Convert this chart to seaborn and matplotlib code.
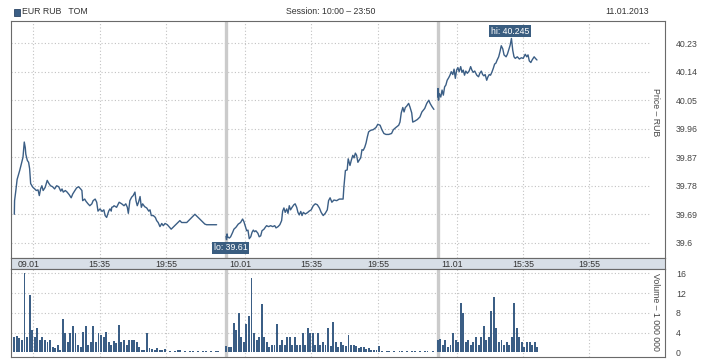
import pandas as pd
import seaborn as sns
import matplotlib.pyplot as plt
from matplotlib.patches import Rectangle

# session 10:00 - 23:50, times below are minutes after 10:00
DAY_LEN = 830
LINE_COLOR = '#3b5e85'

day1_time = [0, 1, 6, 11, 21, 27, 34, 39, 43, 45, 51, 56, 60, 64, 69, 73, 80, 86, 93, 98,
             103, 108, 113, 121, 129, 135, 142, 150, 158, 166, 174, 182, 187, 192, 200, 207,
             215, 223, 229, 236, 244, 252, 260, 265, 268, 276, 281, 289, 296, 304, 309, 317,
             323, 328, 336, 344, 351, 356, 362, 370, 375, 380, 382, 388, 391, 401, 411, 421,
             430, 437, 443, 447, 453, 460, 466, 473, 477, 482, 487, 493, 498, 503, 511, 519,
             527, 532, 537, 545, 553, 558, 564, 571, 578, 584, 591, 600, 615, 649, 656, 676,
             708, 727, 747, 754, 793]
day1_price = [39.69, 39.733, 39.765, 39.80, 39.828, 39.847, 39.87, 39.918, 39.90, 39.88,
              39.86, 39.854, 39.834, 39.787, 39.78, 39.775, 39.77, 39.765, 39.767, 39.749,
              39.77, 39.78, 39.765, 39.775, 39.797, 39.788, 39.78, 39.777, 39.77, 39.78,
              39.777, 39.763, 39.77, 39.76, 39.765, 39.76, 39.752, 39.742, 39.754, 39.763,
              39.773, 39.777, 39.77, 39.765, 39.733, 39.738, 39.731, 39.723, 39.717, 39.723,
              39.733, 39.738, 39.728, 39.70, 39.707, 39.699, 39.704, 39.686, 39.68, 39.70,
              39.707, 39.70, 39.712, 39.714, 39.717, 39.712, 39.728, 39.723, 39.717, 39.723,
              39.712, 39.693, 39.733, 39.744, 39.749, 39.76, 39.733, 39.717, 39.728, 39.746,
              39.712, 39.723, 39.714, 39.71, 39.70, 39.704, 39.686, 39.686, 39.68, 39.67,
              39.664, 39.651, 39.661, 39.654, 39.661, 39.657, 39.643, 39.67, 39.664, 39.664,
              39.69, 39.675, 39.659, 39.657, 39.657]

day2_time = [0, 2, 4, 6, 13, 18, 26, 31, 39, 48, 57, 65, 70, 75, 81, 86, 91, 97, 102, 107,
             112, 117, 125, 130, 136, 141, 149, 154, 159, 167, 175, 183, 191, 196, 204, 211,
             218, 222, 227, 232, 238, 243, 248, 253, 259, 266, 271, 277, 282, 287, 293, 298,
             303, 311, 319, 326, 334, 342, 350, 358, 366, 373, 381, 389, 397, 402, 408, 415,
             423, 434, 444, 459, 462, 468, 475, 479, 486, 491, 497, 502, 507, 512, 517, 523,
             528, 533, 538, 544, 549, 554, 559, 567, 577, 588, 595, 604, 611, 619, 627, 638,
             649, 656, 666, 677, 682, 687, 693, 698, 703, 708, 716, 721, 728, 732, 740, 750,
             760, 768, 779, 787, 795, 800, 808, 815]
day2_price = [39.62, 39.61, 39.628, 39.619, 39.615, 39.619, 39.633, 39.643, 39.649, 39.659,
              39.664, 39.675, 39.667, 39.654, 39.638, 39.64, 39.613, 39.619, 39.633, 39.64,
              39.635, 39.638, 39.63, 39.619, 39.622, 39.638, 39.643, 39.649, 39.654, 39.651,
              39.654, 39.651, 39.654, 39.647, 39.651, 39.657, 39.67, 39.70, 39.71, 39.696,
              39.707, 39.693, 39.717, 39.704, 39.712, 39.72, 39.723, 39.712, 39.696, 39.688,
              39.699, 39.686, 39.696, 39.691, 39.695, 39.70, 39.704, 39.717, 39.723, 39.72,
              39.71, 39.696, 39.686, 39.693, 39.704, 39.733, 39.742, 39.728, 39.735, 39.733,
              39.738, 39.738, 39.775, 39.828, 39.83, 39.865, 39.844, 39.86, 39.876, 39.868,
              39.883, 39.876, 39.854, 39.862, 39.868, 39.894, 39.892, 39.902, 39.915, 39.934,
              39.95, 39.955, 39.957, 39.964, 39.974, 39.971, 39.957, 39.945, 39.942, 39.942,
              39.945, 39.957, 39.964, 39.971, 39.981, 40.01, 40.027, 40.013, 40.027, 40.031,
              40.04, 40.029, 40.01, 39.981, 39.984, 39.989, 39.997, 40.013, 40.024, 40.04,
              40.05, 40.04, 40.029, 40.021]

day3_time = [0, 1, 3, 6, 12, 17, 22, 27, 32, 37, 43, 48, 53, 59, 64, 69, 74, 79, 84, 90,
             95, 100, 105, 110, 116, 123, 129, 134, 139, 145, 153, 160, 165, 171, 176, 181,
             186, 192, 197, 202, 207, 213, 218, 223, 228, 233, 239, 244, 249, 255, 260, 268,
             273, 278, 284, 289, 294, 299, 304, 312, 320, 328, 335, 343, 349, 354, 359, 365,
             370, 378, 383, 389]
day3_price = [40.06, 40.087, 40.05, 40.071, 40.06, 40.082, 40.066, 40.092, 40.098, 40.113,
              40.121, 40.129, 40.14, 40.131, 40.148, 40.119, 40.145, 40.153, 40.14, 40.156,
              40.138, 40.145, 40.129, 40.142, 40.135, 40.142, 40.156, 40.145, 40.138, 40.142,
              40.129, 40.124, 40.135, 40.142, 40.131, 40.127, 40.131, 40.113, 40.124, 40.131,
              40.129, 40.14, 40.151, 40.164, 40.167, 40.177, 40.187, 40.203, 40.222, 40.212,
              40.193, 40.187, 40.195, 40.208, 40.224, 40.245, 40.208, 40.187, 40.182, 40.187,
              40.18, 40.184, 40.182, 40.195, 40.187, 40.193, 40.174, 40.169, 40.177, 40.187,
              40.182, 40.177]

# volume, millions, 10-minute bins from 10:00
vol_day1 = [3.2, 3.3, 2.8, 2.5, 16, 3, 11.7, 4.5, 3, 5,
            2.5, 3, 2.5, 2, 2.5, 1, 0.8, 1.5, 0.5, 6.8,
            4, 2, 4, 5.4, 4, 1.5, 1, 4.2, 5.3, 1.5,
            2, 5.3, 2, 4, 3.5, 3, 4.2, 2, 1.5, 2.2,
            1.8, 5.5, 2, 2.5, 1.5, 2.5, 2.5, 2.5, 2, 1,
            0.5, 0.5, 4, 0.8, 0.6, 0.5, 0.8, 0.5, 0.4, 0.6,
            0, 0.2, 0, 0.3, 0.4, 0.4, 0, 0.3, 0, 0.3,
            0.3, 0, 0.3, 0, 0.3, 0.3, 0, 0.3, 0, 0.2,
            0.3, 0, 0]
vol_day2 = [1.2, 1, 1, 6, 4.5, 8, 3, 2, 5.7, 7.3,
            15, 4, 2.5, 3, 9.7, 3, 2, 1, 1.5, 1.5,
            5.7, 1.5, 2.5, 1.5, 3, 3, 1.5, 3, 1.5, 1.5,
            4, 1.5, 5, 4, 4, 1.5, 4, 1.5, 2, 1.5,
            5, 1.2, 6.2, 2, 1, 2, 1.5, 1.2, 3.5, 1.5,
            1.5, 1.2, 0.8, 1, 1, 0.6, 0.8, 0.5, 0.5, 0.4,
            1.3, 0.3, 0, 0.3, 0.3, 0, 0.3, 0, 0.3, 0.3,
            0, 0.3, 0, 0.3, 0.3, 0, 0.3, 0, 0.3, 0.3,
            0, 0.3, 0]
vol_day3 = [2.5, 2.7, 1.5, 2.5, 1, 1.5, 4, 2.5, 2, 10,
            8, 2, 2.5, 1.5, 2, 3, 1.5, 3, 5.3, 2.5,
            3, 8.3, 11.2, 5, 2, 2.5, 1.5, 2, 1.5, 3,
            10, 5, 3, 2, 1, 2, 2, 1.5, 2, 1]

tick_minutes = [75, 335, 595]
tick_labels = ['09.01', '15:35', '19:55', '10.01', '15:35', '19:55', '11.01', '15:35', '19:55']
price_ticks = [39.6, 39.69, 39.78, 39.87, 39.96, 40.05, 40.14, 40.23]
volume_ticks = [0, 4, 8, 12, 16]

sns.set_style('white')
plt.rcParams['font.family'] = ['Liberation Sans', 'DejaVu Sans']
FS = 6.3
GRID = dict(color='#c2c2c2', lw=0.8, ls=(0, (1, 2)), zorder=0)

price_rows = []
for d, (times, prices) in enumerate([(day1_time, day1_price), (day2_time, day2_price),
                                     (day3_time, day3_price)]):
    for t, p in zip(times, prices):
        price_rows.append({'t': d * DAY_LEN + t, 'price': p, 'day': d})
price_df = pd.DataFrame(price_rows)

vol_rows = []
for d, vols in enumerate([vol_day1, vol_day2, vol_day3]):
    for i, v in enumerate(vols):
        vol_rows.append({'t': d * DAY_LEN + 10 * i, 'vol': v})
vol_df = pd.DataFrame(vol_rows)

ticks = [d * DAY_LEN + m for d in range(3) for m in tick_minutes]
separators = [DAY_LEN, 2 * DAY_LEN]
xlim = (-13, 2551)

fig = plt.figure(figsize=(7.18, 3.6), dpi=100)
ax_p = fig.add_axes([11 / 718, 102 / 360, 654 / 718, 237 / 360])
ax_s = fig.add_axes([11 / 718, 91 / 360, 654 / 718, 11 / 360])
ax_v = fig.add_axes([11 / 718, 3 / 360, 654 / 718, 88 / 360])

# price panel
for y in price_ticks:
    ax_p.axhline(y, xmax=0.977, **GRID)
for x in ticks:
    ax_p.axvline(x, **GRID)
for x in separators:
    ax_p.axvline(x, color='#cbcbcb', lw=2.4, zorder=1)
sns.lineplot(data=price_df, x='t', y='price', units='day', estimator=None,
             color=LINE_COLOR, lw=1.0, ax=ax_p, zorder=3)
ax_p.set_xlim(*xlim)
ax_p.set_ylim(39.552, 40.300)
ax_p.set_xticks([])
ax_p.yaxis.tick_right()
ax_p.set_yticks(price_ticks)
ax_p.set_yticklabels([f'{v:g}' for v in price_ticks])
ax_p.set_xlabel('')
ax_p.set_ylabel('')
ax_p.text(0.986, 0.614, 'Price – RUB', rotation=270, transform=ax_p.transAxes,
          ha='center', va='center', fontsize=FS, color='#444444')

hi = price_df.loc[price_df['price'].idxmax()]
lo = price_df.loc[price_df['price'].idxmin()]
box = dict(boxstyle='square,pad=0.18', fc='#3a5d80', ec='none')
ax_p.annotate(f'hi: {hi.price:.3f}', xy=(hi.t, hi.price), xytext=(-1, 2),
              textcoords='offset points', ha='center', va='bottom',
              color='white', fontsize=FS, bbox=box, zorder=5)
ax_p.annotate(f'lo: {lo.price:.2f}', xy=(lo.t, lo.price), xytext=(3, -2.5),
              textcoords='offset points', ha='center', va='top',
              color='white', fontsize=FS, bbox=box, zorder=5)

# date strip
ax_s.set_facecolor('#d8dfe7')
ax_s.set_xlim(*xlim)
ax_s.set_ylim(0, 1)
ax_s.set_xticks([])
ax_s.set_yticks([])
for i, (x, lab) in enumerate(zip(ticks, tick_labels)):
    shift = -20 if i % 3 == 0 else 0
    ax_s.text(x + shift, 0.45, lab, ha='center', va='center', fontsize=FS, color='#333333')

# volume panel
for y in volume_ticks[1:]:
    ax_v.axhline(y, xmax=0.977, **GRID)
for x in ticks:
    ax_v.axvline(x, **GRID)
for x in separators:
    ax_v.axvline(x, color='#cbcbcb', lw=2.4, zorder=1)
sns.barplot(data=vol_df, x='t', y='vol', native_scale=True, color=LINE_COLOR,
            saturation=1, width=0.75, errorbar=None, linewidth=0, ax=ax_v, zorder=3)
ax_v.set_xlim(*xlim)
ax_v.set_ylim(-0.95, 16.87)
ax_v.set_xticks([])
ax_v.yaxis.tick_right()
ax_v.set_yticks(volume_ticks)
ax_v.set_yticklabels([str(v) for v in volume_ticks])
ax_v.set_xlabel('')
ax_v.set_ylabel('')
ax_v.text(0.986, 0.51, 'Volume – 1 000 000', rotation=270, transform=ax_v.transAxes,
          ha='center', va='center', fontsize=FS, color='#444444')

for ax in (ax_p, ax_s, ax_v):
    for sp in ax.spines.values():
        sp.set_color('#6a6a6a')
        sp.set_linewidth(0.8)
    ax.tick_params(axis='y', length=0, pad=8, labelsize=FS, labelcolor='#444444')

# header
fig.patches.append(Rectangle((14 / 718, 1 - 16 / 360), 6 / 718, 7 / 360,
                             transform=fig.transFigure, fc=LINE_COLOR, ec='#2c4565', lw=0.6))
fig.text(22 / 718, 1 - 12 / 360, 'EUR RUB   TOM', ha='left', va='center',
         fontsize=FS, color='#333333')
fig.text(331 / 718, 1 - 12 / 360, 'Session: 10:00 – 23:50', ha='center', va='center',
         fontsize=FS, color='#333333')
fig.text(649 / 718, 1 - 12 / 360, '11.01.2013', ha='right', va='center',
         fontsize=FS, color='#333333')

fig.savefig('out.png', dpi=100)
